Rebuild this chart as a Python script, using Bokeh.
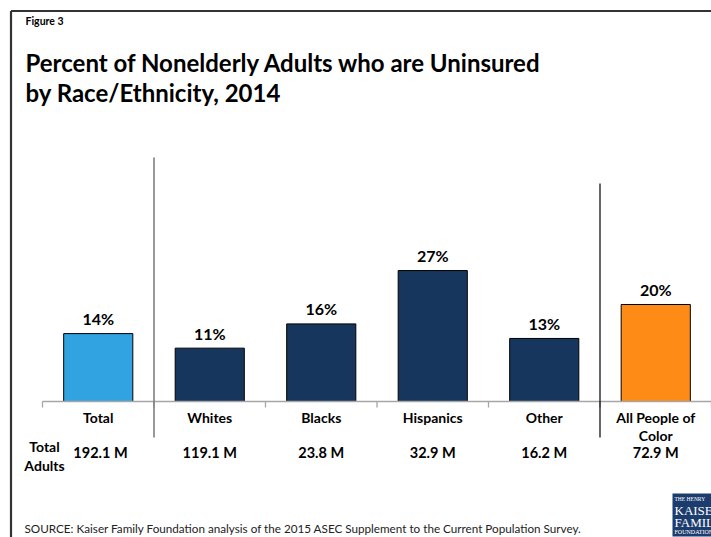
from bokeh.plotting import figure
from bokeh.models import Range1d, ColumnDataSource
from bokeh.core.properties import value
from bokeh.embed import file_html
from bokeh.resources import INLINE

# ---- data ----
categories = ["Total", "Whites", "Blacks", "Hispanics", "Other", "All People of Color"]
pct_uninsured = [14, 11, 16, 27, 13, 20]
total_adults_m = [192.1, 119.1, 23.8, 32.9, 16.2, 72.9]
bar_colors = ["#31A3E1", "#17365D", "#17365D", "#17365D", "#17365D", "#FF8B17"]

title_small = "Figure 3"
title_lines = ["Percent of Nonelderly Adults who are Uninsured", "by Race/Ethnicity, 2014"]
source_text = "SOURCE: Kaiser Family Foundation analysis of  the 2015 ASEC Supplement to the Current Population Survey."

# ---- layout helpers (page pixels -> data units) ----
W, H = 711, 537
ORG = 0
PX_PER_CAT = 111.5
PX_PER_PCT = 4.85
AX_LEFT = 42.0
BASE_Y = 401.0


def X(px):
    return (px - AX_LEFT) / PX_PER_CAT


def Y(py):
    return (BASE_Y - py) / PX_PER_PCT


p = figure(width=W, height=H, output_backend="svg", toolbar_location=None,
           x_range=Range1d(X(ORG), X(ORG + W)), y_range=Range1d(Y(ORG + H), Y(ORG)),
           min_border=0, min_border_left=0, min_border_right=0,
           min_border_top=0, min_border_bottom=0)
p.axis.visible = False
p.grid.visible = False
p.outline_line_color = None
p.background_fill_color = "white"
p.border_fill_color = "white"

n = len(categories)
centers = [i + 0.5 for i in range(n)]

# bars
src = ColumnDataSource(dict(x=centers, top=pct_uninsured, color=bar_colors,
                            ly=[v + 3.1 for v in pct_uninsured],
                            lab=[f"{v}%" for v in pct_uninsured]))
p.vbar(x="x", top="top", bottom=0, width=0.62, fill_color="color",
       line_color="black", line_width=1, source=src)

# value labels
p.text(x="x", y="ly", text="lab", source=src,
       text_align="center", text_baseline="middle",
       text_font=value("Lato"), text_font_style="bold", text_font_size="16px",
       text_color="black")

# baseline axis with boundary ticks
p.segment(x0=[0], y0=[0], x1=[n], y1=[0], line_color="#A6A6A6", line_width=1.3)
p.segment(x0=list(range(n + 1)), y0=[0] * (n + 1), x1=list(range(n + 1)),
          y1=[Y(BASE_Y + 6)] * (n + 1), line_color="#A6A6A6", line_width=1.3)

# separators
p.segment(x0=[1], y0=[Y(157)], x1=[1], y1=[Y(437)], line_color="#7F7F7F", line_width=1.6)
p.segment(x0=[5], y0=[Y(183)], x1=[5], y1=[Y(437)], line_color="black", line_width=1.2)

# category labels (wrap the long one)
line1, line2 = [], []
for c in categories:
    if c == "All People of Color":
        line1.append("All People of")
        line2.append("Color")
    else:
        line1.append(c)
        line2.append("")
p.text(x=centers, y=[Y(416.5)] * n, text=line1, text_align="center", text_baseline="middle",
       text_font=value("Lato"), text_font_style="bold", text_font_size="14px", text_color="black")
p.text(x=centers, y=[Y(435)] * n, text=line2, text_align="center", text_baseline="middle",
       text_font=value("Lato"), text_font_style="bold", text_font_size="14px", text_color="black")

# Total adults row
adult_x = [c + (0.02 if i == 0 else 0) for i, c in enumerate(centers)]
p.text(x=adult_x, y=[Y(452)] * n, text=[f"{v} M" for v in total_adults_m],
       text_align="center", text_baseline="middle",
       text_font=value("Lato"), text_font_style="bold", text_font_size="14.5px", text_color="black")
p.text(x=[X(44)] * 2, y=[Y(446), Y(465)], text=["Total", "Adults"],
       text_align="center", text_baseline="middle",
       text_font=value("Lato"), text_font_style="bold", text_font_size="14px", text_color="black")

# titles
p.text(x=[X(25)], y=[Y(20)], text=[title_small], text_align="left", text_baseline="middle",
       text_font=value("Lato"), text_font_style="bold", text_font_size="10.5px", text_color="black")
p.text(x=[X(25)] * 2, y=[Y(62), Y(92)], text=title_lines, text_align="left", text_baseline="middle",
       text_font=value("Lato"), text_font_style="bold", text_font_size="24px", text_color="black")

# source
p.text(x=[X(24)], y=[Y(527)], text=[source_text], text_align="left", text_baseline="middle",
       text_font=value("Lato"), text_font_size="11.7px", text_color="#222222")

# frame border (top and left)
p.segment(x0=[X(10.5), X(10.5)], y0=[Y(10.5), Y(10.5)], x1=[X(712), X(10.5)], y1=[Y(10.5), Y(540)],
          line_color="#333333", line_width=2.2)

# logo
p.quad(left=[X(672)], right=[X(712)], top=[Y(493)], bottom=[Y(536)],
       fill_color="#1D3C6E", line_color=None)
p.text(x=[X(674)] * 4, y=[Y(498), Y(510), Y(521.5), Y(531.5)],
       text=["THE HENRY", "KAISER", "FAMILY", "FOUNDATION"],
       text_align="left", text_baseline="middle", text_font=value("Liberation Serif"),
       text_font_size=["5.5px", "13px", "13px", "6px"], text_color="white")

open("out.html", "w").write(file_html(p, INLINE))
